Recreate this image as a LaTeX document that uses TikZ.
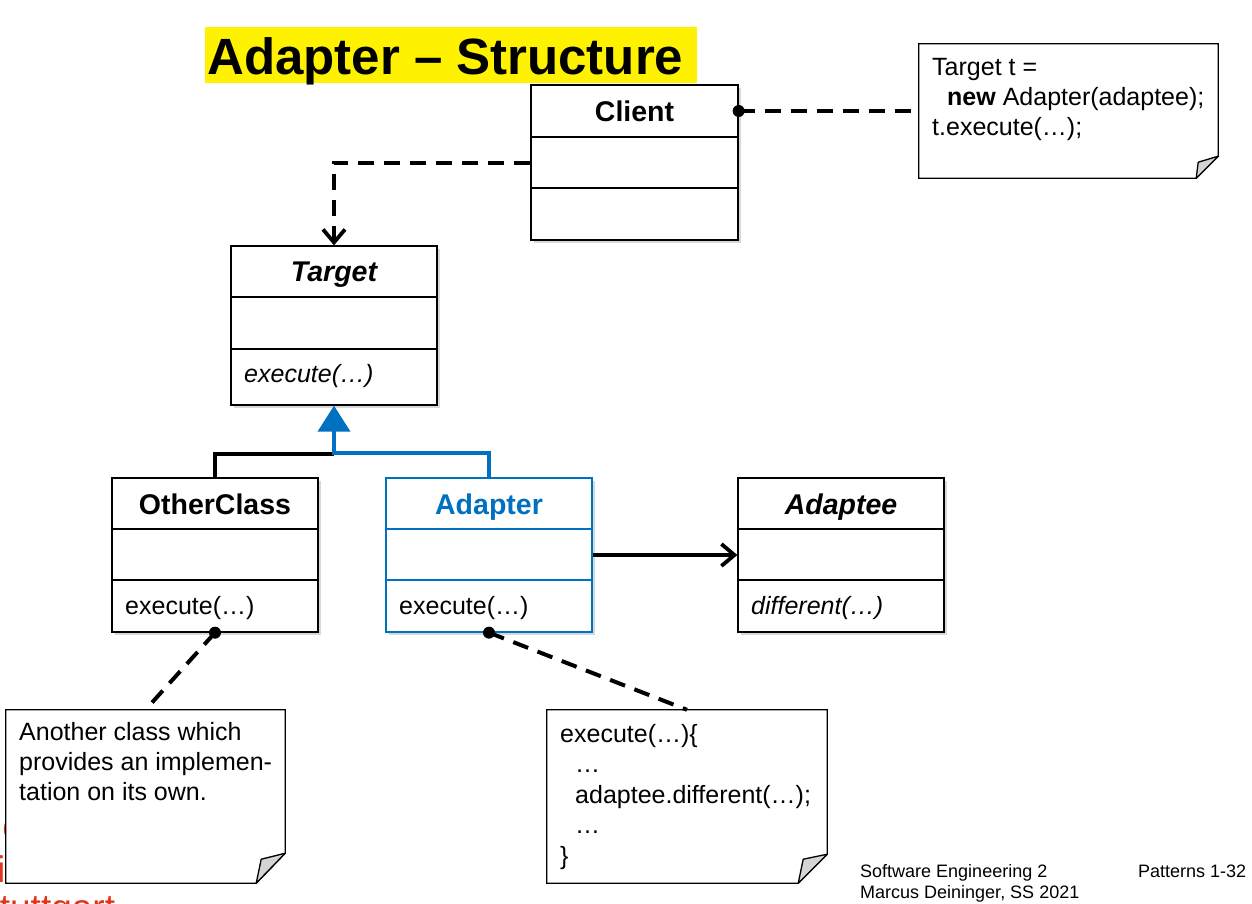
\documentclass[tikz,border=0pt]{standalone}
\usepackage{fontspec}
\setmainfont{Liberation Sans}
\usetikzlibrary{arrows.meta,shadows,calc}
\definecolor{umlblue}{HTML}{0070C0}
\definecolor{logored}{HTML}{E2341D}
\definecolor{foldgray}{HTML}{D4D4D4}
\newcommand\fbody{\fontsize{25}{30}\selectfont}
\newcommand\fname{\fontsize{28.5}{34}\selectfont\bfseries}
\newcommand\ffoot{\fontsize{18}{21}\selectfont}
\begin{document}
\begin{tikzpicture}[x=1pt,y=-1pt,
  classbox/.style={draw=black, line width=1.3pt, fill=white, inner sep=0pt,
    drop shadow={shadow xshift=3pt, shadow yshift=-3pt, opacity=0.3}},
  notearea/.style={inner sep=0pt},
  txt/.style={inner sep=0pt, anchor=base west, font=\fbody},
  ctitle/.style={inner sep=0pt, anchor=base, font=\fname},
  dashconn/.style={line width=4pt, dash pattern=on 16pt off 10pt},
  solidconn/.style={line width=3.8pt},
  barb/.style={-{Straight Barb[length=13pt,width=22pt,line width=3.8pt]}},
  dot/.style={circle, fill=black, inner sep=0pt, minimum size=12pt},
  notefill/.style={draw=black, line width=1.3pt, fill=white},
  foldfill/.style={draw=black, line width=1.3pt, fill=foldgray, line join=round},
  foot/.style={inner sep=0pt, anchor=base west, font=\ffoot},
  redtxt/.style={inner sep=0pt, anchor=base west, text=logored, font=\fontsize{37}{40}\selectfont}
]
\useasboundingbox (0,0) rectangle (1252,903);
\clip (0,0) rectangle (1252,903);
\fill[white] (0,0) rectangle (1252,903);

% logo fragments (mostly hidden)
\node[redtxt] (logoC) at (2,842) {C};
\node[redtxt] (logoI) at (-3,882) {i};
\node[redtxt] (logoS) at (-25,920) {Stuttgart};

% title
\node[fill=yellow, inner sep=0pt, minimum width=492pt, minimum height=56pt, anchor=north west] (titlebg) at (205,27) {};
\node[inner sep=0pt, anchor=base west, font=\fontsize{51}{56}\selectfont\bfseries] (title) at (207,74) {Adapter -- Structure};

% ---------- classes ----------
% Client
\node[classbox, minimum width=207pt, minimum height=155pt] (client) at (634.5,162.5) {};
\draw[line width=1.3pt] (client.west |- 0,137) -- (client.east |- 0,137);
\draw[line width=1.3pt] (client.west |- 0,188) -- (client.east |- 0,188);
\node[ctitle] (clientname) at (634.5,121) {Client};

% Target
\node[classbox, minimum width=206pt, minimum height=159pt] (target) at (334,325.5) {};
\draw[line width=1.3pt] (target.west |- 0,297) -- (target.east |- 0,297);
\draw[line width=1.3pt] (target.west |- 0,349) -- (target.east |- 0,349);
\node[ctitle] (targetname) at (334,281) {\itshape Target};
\node[txt, font=\fbody\itshape] (targetop) at (244,382) {execute(…)};

% OtherClass
\node[classbox, minimum width=206pt, minimum height=154pt] (other) at (215,555) {};
\draw[line width=1.3pt] (other.west |- 0,529) -- (other.east |- 0,529);
\draw[line width=1.3pt] (other.west |- 0,580) -- (other.east |- 0,580);
\node[ctitle] (othername) at (215,514) {OtherClass};
\node[txt] (otherop) at (125,614) {execute(…)};

% Adapter
\node[classbox, draw=umlblue, minimum width=206pt, minimum height=154pt] (adapter) at (489,555) {};
\draw[line width=1.3pt, umlblue] (adapter.west |- 0,529) -- (adapter.east |- 0,529);
\draw[line width=1.3pt, umlblue] (adapter.west |- 0,580) -- (adapter.east |- 0,580);
\node[ctitle, text=umlblue] (adaptername) at (489,514) {Adapter};
\node[txt] (adapterop) at (399,614) {execute(…)};

% Adaptee
\node[classbox, minimum width=206pt, minimum height=154pt] (adaptee) at (841,555) {};
\draw[line width=1.3pt] (adaptee.west |- 0,529) -- (adaptee.east |- 0,529);
\draw[line width=1.3pt] (adaptee.west |- 0,580) -- (adaptee.east |- 0,580);
\node[ctitle] (adapteename) at (841,514) {\itshape Adaptee};
\node[txt, font=\fbody\itshape] (adapteeop) at (751,614) {different(…)};

% ---------- notes ----------
% note 1 (client)
\node[notearea, minimum width=299pt, minimum height=134pt] (n1) at (1068.5,111) {};
\fill[black, opacity=0.25, xshift=3pt, yshift=-3pt] (n1.north west) -- (n1.north east) -- ([yshift=22pt]n1.south east) -- ([xshift=-22pt]n1.south east) -- (n1.south west) -- cycle;
\draw[notefill] (n1.north west) -- (n1.north east) -- ([yshift=22pt]n1.south east) -- ([xshift=-22pt]n1.south east) -- (n1.south west) -- cycle;
\draw[foldfill] ([yshift=22pt]n1.south east) -- ([xshift=-20pt,yshift=16pt]n1.south east) -- ([xshift=-22pt]n1.south east) -- cycle;
\node[txt] (n1a) at (932,75) {Target t =};
\node[txt] (n1b) at (947,105) {\bfseries new\mdseries{} Adapter(adaptee);};
\node[txt] (n1c) at (932,135) {t.execute(…);};

% note 2 (other class)
\node[notearea, minimum width=279pt, minimum height=173pt] (n2) at (145.5,796.5) {};
\fill[black, opacity=0.25, xshift=3pt, yshift=-3pt] (n2.north west) -- (n2.north east) -- ([yshift=30pt]n2.south east) -- ([xshift=-29pt]n2.south east) -- (n2.south west) -- cycle;
\draw[notefill] (n2.north west) -- (n2.north east) -- ([yshift=30pt]n2.south east) -- ([xshift=-29pt]n2.south east) -- (n2.south west) -- cycle;
\draw[foldfill] ([yshift=30pt]n2.south east) -- ([xshift=-24pt,yshift=24pt]n2.south east) -- ([xshift=-29pt]n2.south east) -- cycle;
\node[txt] (n2a) at (19,740) {Another class which};
\node[txt] (n2b) at (19,770) {provides an implemen-};
\node[txt] (n2c) at (19,800) {tation on its own.};

% note 3 (adapter)
\node[notearea, minimum width=280pt, minimum height=173pt] (n3) at (687,796.5) {};
\fill[black, opacity=0.25, xshift=3pt, yshift=-3pt] (n3.north west) -- (n3.north east) -- ([yshift=29pt]n3.south east) -- ([xshift=-29pt]n3.south east) -- (n3.south west) -- cycle;
\draw[notefill] (n3.north west) -- (n3.north east) -- ([yshift=29pt]n3.south east) -- ([xshift=-29pt]n3.south east) -- (n3.south west) -- cycle;
\draw[foldfill] ([yshift=29pt]n3.south east) -- ([xshift=-24pt,yshift=24pt]n3.south east) -- ([xshift=-29pt]n3.south east) -- cycle;
\node[txt] (n3a) at (560,742) {execute(…)\{};
\node[txt] (n3b) at (575,772) {…};
\node[txt] (n3c) at (575,803) {adaptee.different(…);};
\node[txt] (n3d) at (575,833) {…};
\node[txt] (n3e) at (560,864) {\}};

% ---------- connectors ----------
% client -> note 1
\draw[dashconn] (n1.west -| client.east) -- (n1.west);
\node[dot] (d1) at (n1.west -| client.east) {};
% client -> target (dependency)
\draw[dashconn, barb] (client.west) -| (target.north);
% generalization
\draw[line width=4pt] (other.north) |- (target.south |- 0,454);
\draw[line width=4pt, umlblue, -{Triangle[length=26pt,width=32pt]}] (adapter.north) -- ++(0,-24) -| (target.south);
% association adapter -> adaptee
\draw[solidconn, barb] (adapter.east) -- (adaptee.west);
% notes
\draw[dashconn] (other.south) -- (n2.north);
\node[dot] (d2) at (other.south) {};
\draw[dashconn] (adapter.south) -- (n3.north);
\node[dot] (d3) at (adapter.south) {};

% footer
\node[foot] (f1) at (860,877) {Software Engineering 2};
\node[foot] (f2) at (860,898) {Marcus Deininger, SS 2021};
\node[foot] (f3) at (1138,877) {Patterns 1-32};
\end{tikzpicture}
\end{document}
